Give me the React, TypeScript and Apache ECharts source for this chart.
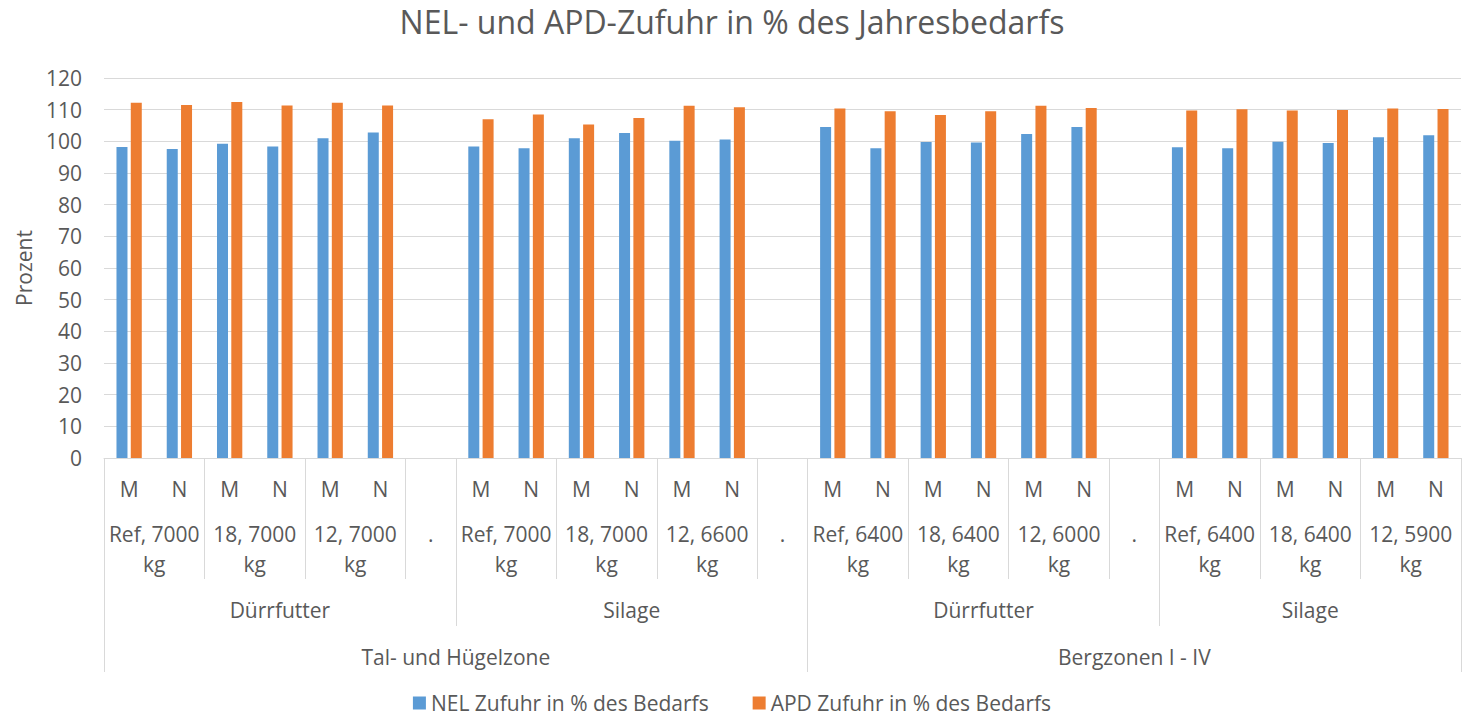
import React, { useEffect, useRef } from 'react';
import * as echarts from 'echarts';

// ---- data ----
const slotLabels = ['M', 'N', 'M', 'N', 'M', 'N', '', 'M', 'N', 'M', 'N', 'M', 'N', '', 'M', 'N', 'M', 'N', 'M', 'N', '', 'M', 'N', 'M', 'N', 'M', 'N'];
const nelValues = [98.2, 97.6, 99.2, 98.4, 101.0, 102.8, null, 98.4, 97.8, 101.0, 102.6, 100.2, 100.6, null, 104.5, 97.8, 99.8, 99.6, 102.3, 104.5, null, 98.1, 97.8, 99.9, 99.5, 101.3, 101.9];
const apdValues = [112.2, 111.5, 112.4, 111.3, 112.2, 111.3, null, 107.0, 108.5, 105.3, 107.4, 111.2, 110.8, null, 110.4, 109.5, 108.3, 109.5, 111.2, 110.5, null, 109.7, 110.1, 109.7, 109.9, 110.4, 110.2];
const subgroupLabels = ['Ref, 7000 kg', '18, 7000 kg', '12, 7000 kg', '.', 'Ref, 7000 kg', '18, 7000 kg', '12, 6600 kg', '.', 'Ref, 6400 kg', '18, 6400 kg', '12, 6000 kg', '.', 'Ref, 6400 kg', '18, 6400 kg', '12, 5900 kg'];
const subgroupSpans = [2, 2, 2, 1, 2, 2, 2, 1, 2, 2, 2, 1, 2, 2, 2];
const groupLabels = ['Dürrfutter', 'Silage', 'Dürrfutter', 'Silage'];
const groupSpans = [7, 7, 7, 6];
const zoneLabels = ['Tal- und Hügelzone', 'Bergzonen I - IV'];
const zoneSpans = [14, 13];
const seriesNames = ['NEL Zufuhr in % des Bedarfs', 'APD Zufuhr in % des Bedarfs'];
const yMin = 0, yMax = 120, yInterval = 10;
const titleText = 'NEL- und APD-Zufuhr in % des Jahresbedarfs';
const yTitle = 'Prozent';

const FONT = 'Open Sans';
const FS = 21;
const TXT = '#595959';
const GRID = '#d9d9d9';

function starts(spans: number[]) {
  const s = new Set<number>();
  let acc = 0;
  spans.forEach((n) => { s.add(acc); acc += n; });
  return s;
}
function centers(labels: string[], spans: number[]) {
  const m: Record<string, string> = {};
  let acc = 0;
  spans.forEach((n, i) => { m[String(acc + n / 2)] = labels[i]; acc += n; });
  return m;
}
function wrap(s: string) {
  const i = s.lastIndexOf(' ');
  return i > 0 && s.length > 4 ? s.slice(0, i) + '\n' + s.slice(i + 1) : s;
}

export default function App() {
  const ref = useRef<HTMLDivElement>(null);
  useEffect(() => {
    document.body.style.margin = '0';
    const chart = echarts.init(ref.current!, null, { renderer: 'svg' });
    const total = slotLabels.length;
    const subStarts = starts(subgroupSpans);
    const grpStarts = starts(groupSpans);
    const zoneStarts = starts(zoneSpans);
    const subCenters = centers(subgroupLabels, subgroupSpans);
    const grpCenters = centers(groupLabels, groupSpans);
    const zoneCenters = centers(zoneLabels, zoneSpans);

    const tickAxis = (set: Set<number>, len: number) => ({
      type: 'category',
      data: slotLabels,
      position: 'bottom',
      gridIndex: 0,
      axisLine: { show: false },
      axisLabel: { show: false },
      axisTick: { show: true, interval: (i: number) => set.has(i), length: len, lineStyle: { color: GRID, width: 1 } },
      splitLine: { show: false },
    });
    const labelAxis = (map: Record<string, string>, margin: number, doWrap: boolean) => ({
      type: 'value',
      min: 0,
      max: total,
      interval: 0.5,
      position: 'bottom',
      gridIndex: 0,
      axisLine: { show: false },
      axisTick: { show: false },
      splitLine: { show: false },
      axisLabel: {
        show: true,
        margin,
        fontFamily: FONT,
        fontSize: FS,
        color: TXT,
        lineHeight: 30,
        showMinLabel: true,
        showMaxLabel: true,
        formatter: (v: number) => {
          const t = map[String(v)];
          return t ? (doWrap ? wrap(t) : t) : '';
        },
      },
    });

    chart.setOption({
      animation: false,
      title: {
        text: titleText,
        left: 'center',
        top: 0,
        textStyle: { fontFamily: FONT, fontSize: 32, fontWeight: 'normal', color: TXT },
      },
      legend: {
        data: seriesNames,
        bottom: 3,
        padding: 0,
        left: 'center',
        icon: 'rect',
        itemWidth: 13,
        itemHeight: 13,
        itemGap: 44,
        textStyle: { fontFamily: FONT, fontSize: FS, color: TXT, lineHeight: 24 },
      },
      grid: { left: 104, right: 0, top: 78, bottom: 260, containLabel: false },
      xAxis: [
        {
          type: 'category',
          data: slotLabels,
          position: 'bottom',
          axisLine: { show: true, lineStyle: { color: GRID, width: 1 } },
          axisTick: { show: true, interval: (i: number) => subStarts.has(i), length: 121, lineStyle: { color: GRID, width: 1 } },
          axisLabel: { interval: 0, margin: 20, fontFamily: FONT, fontSize: FS, color: TXT },
          splitLine: { show: false },
        },
        tickAxis(grpStarts, 168),
        tickAxis(zoneStarts, 214),
        labelAxis(subCenters, 61, true),
        labelAxis(grpCenters, 137, false),
        labelAxis(zoneCenters, 184, false),
      ],
      yAxis: {
        type: 'value',
        min: yMin,
        max: yMax,
        interval: yInterval,
        name: yTitle,
        nameLocation: 'middle',
        nameGap: 70,
        nameTextStyle: { fontFamily: FONT, fontSize: FS, color: TXT },
        axisLine: { show: false },
        axisTick: { show: false },
        axisLabel: { fontFamily: FONT, fontSize: FS, color: TXT, margin: 22 },
        splitLine: { show: true, lineStyle: { color: GRID, width: 1 } },
      },
      series: [
        {
          name: seriesNames[0],
          type: 'bar',
          xAxisIndex: 0,
          data: nelValues,
          barWidth: 11,
          barGap: '30%',
          itemStyle: { color: '#5b9bd5' },
        },
        {
          name: seriesNames[1],
          type: 'bar',
          xAxisIndex: 0,
          data: apdValues,
          barWidth: 11,
          barGap: '30%',
          itemStyle: { color: '#ed7d31' },
        },
      ],
    });
    return () => chart.dispose();
  }, []);
  return <div ref={ref} style={{ width: 1464, height: 718 }} />;
}
